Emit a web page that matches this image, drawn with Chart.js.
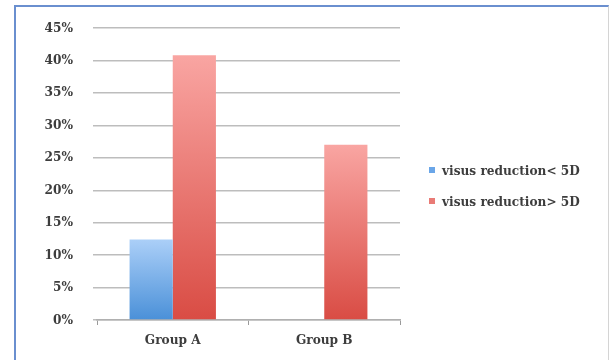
<!DOCTYPE html>
<html>
<head>
<meta charset="utf-8">
<script src="https://cdn.jsdelivr.net/npm/chart.js@4"></script>
<style>
  html, body { margin: 0; padding: 0; background: #fff; }
  #wrap { position: relative; width: 611px; height: 360px; overflow: hidden; }
  #frame {
    position: absolute; left: 14px; top: 5px; width: 592px; height: 370px;
    border-left: 2px solid #6a8fcf; border-top: 2px solid #6a8fcf;
    border-right: 1px solid #d4d4d4; background: #fff;
  }
  canvas { position: absolute; left: 0; top: 0; }
</style>
</head>
<body>
<div id="wrap">
  <div id="frame"></div>
  <canvas id="c" width="611" height="360"></canvas>
</div>
<script>
// Share of eyes per group, by amount of visual acuity reduction
const groups = ['Group A', 'Group B'];
const seriesNames = ['visus reduction< 5D', 'visus reduction> 5D'];
const reductionBelow5D = [0.124, 0];
const reductionAbove5D = [0.408, 0.270];
const yTicks = [0, 0.05, 0.10, 0.15, 0.20, 0.25, 0.30, 0.35, 0.40, 0.45];

const FONT = '"DejaVu Serif Condensed", "DejaVu Serif", serif';
const TEXT = '#3d3d3d';

// vertical gradient per bar, light at the top, darker at the base
function barGradient(top, bottom) {
  return function (ctx) {
    const chart = ctx.chart;
    if (!chart.chartArea || ctx.type !== 'data') return bottom;
    const y = chart.scales.y;
    const v = ctx.raw || 0;
    const yTop = y.getPixelForValue(v);
    const yBase = y.getPixelForValue(0);
    if (!isFinite(yTop) || yBase - yTop < 1) return bottom;
    const g = chart.ctx.createLinearGradient(0, yTop, 0, yBase);
    g.addColorStop(0, top);
    g.addColorStop(1, bottom);
    return g;
  };
}

const legendSwatch = ['#6aa6e8', '#e97b76'];

// legend drawn to the right of the plot
const sideLegend = {
  id: 'sideLegend',
  afterDraw(chart) {
    const c = chart.ctx;
    c.save();
    c.font = 'bold 13.5px ' + FONT;
    c.textBaseline = 'middle';
    const x0 = 429, rows = [170, 201];
    chart.data.datasets.forEach((ds, i) => {
      c.fillStyle = legendSwatch[i];
      c.fillRect(x0, rows[i] - 3, 6, 6);
      c.fillStyle = TEXT;
      c.fillText(ds.label, x0 + 13, rows[i] + 1);
    });
    c.restore();
  }
};

new Chart(document.getElementById('c'), {
  type: 'bar',
  data: {
    labels: groups,
    datasets: [
      {
        label: seriesNames[0],
        data: reductionBelow5D,
        backgroundColor: barGradient('#abcff8', '#4a90d8'),
        borderWidth: 0
      },
      {
        label: seriesNames[1],
        data: reductionAbove5D,
        backgroundColor: barGradient('#f9a5a2', '#d94c44'),
        borderWidth: 0
      }
    ]
  },
  options: {
    responsive: false,
    animation: false,
    categoryPercentage: 0.57,
    barPercentage: 1.0,
    layout: { padding: { left: 40, right: 211, top: 26, bottom: 12 } },
    plugins: {
      legend: { display: false },
      tooltip: { enabled: false }
    },
    scales: {
      x: {
        offset: true,
        afterFit(axis) { axis.height = 28; },
        grid: {
          offset: true,
          drawOnChartArea: false,
          drawTicks: true,
          tickLength: 5,
          color: '#9a9a9a',
          lineWidth: 1
        },
        border: { display: true, color: '#b0b0b0', width: 1.5 },
        ticks: {
          padding: 7,
          color: TEXT,
          font: { family: FONT, size: 13.5, weight: 'bold' }
        }
      },
      y: {
        min: 0,
        max: 0.45,
        afterFit(axis) { axis.width = 57; },
        afterBuildTicks(axis) {
          axis.ticks = yTicks.map(v => ({ value: v }));
        },
        grid: {
          color: '#bdbdbd',
          lineWidth: 1.5,
          tickLength: 4,
          drawTicks: true
        },
        border: { display: false },
        ticks: {
          padding: 20,
          color: TEXT,
          font: { family: FONT, size: 13.5, weight: 'bold' },
          callback: v => Math.round(v * 100) + '%'
        }
      }
    }
  },
  plugins: [sideLegend]
});
</script>
</body>
</html>
